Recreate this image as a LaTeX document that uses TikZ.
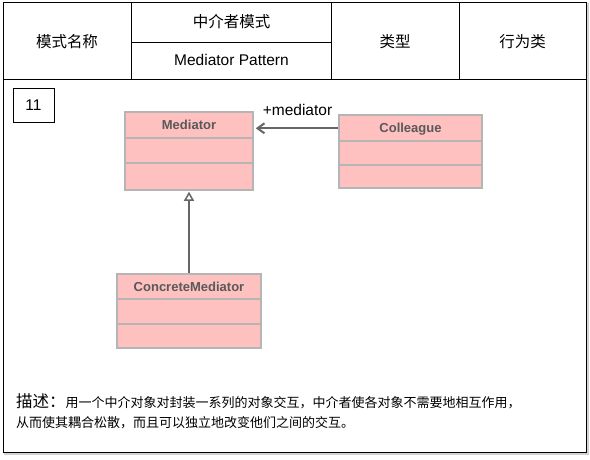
\documentclass[tikz,border=0pt]{standalone}
\usepackage{fontspec}
\setmainfont{Liberation Sans}
\newfontfamily\cjk{Noto Sans CJK SC}
\usetikzlibrary{arrows.meta}
\definecolor{umlfill}{HTML}{FFC0C0}
\definecolor{umlborder}{HTML}{B5B5B5}
\definecolor{umltext}{HTML}{595959}
\definecolor{conn}{HTML}{666666}
\begin{document}
\begin{tikzpicture}[x=1pt,y=-1pt,
  cell/.style={line width=1pt},
  cjkhead/.style={font=\cjk\fontsize{15.5}{18}\selectfont, inner sep=0pt, anchor=base},
  lathead/.style={font=\fontsize{15.5}{18}\selectfont, inner sep=0pt, anchor=base},
  numbox/.style={draw, line width=1pt, minimum width=41pt, minimum height=34pt, inner sep=0pt, font=\fontsize{15.5}{18}\selectfont},
  umlbox/.style={draw=umlborder, fill=umlfill, line width=1.5pt, inner sep=0pt},
  umlsep/.style={draw=umlborder, line width=1.5pt},
  clsname/.style={font=\bfseries\fontsize{13}{15}\selectfont, text=umltext, inner sep=0pt, anchor=base},
  assoc/.style={draw=conn, line width=2pt, -{Straight Barb[length=7pt,width=10pt]}, shorten >=2pt},
  inherit/.style={draw=conn, line width=2pt, -{Triangle[open,length=9pt,width=10pt,line width=1.5pt,fill=white]}, shorten >=1pt},
  desc/.style={font=\cjk\fontsize{13}{15}\selectfont, inner sep=0pt, anchor=base west}
]
\useasboundingbox (0,0) rectangle (590,459);
% frame with shadow
\draw[gray!35, line width=2pt] (4.5,4) rectangle (587.5,454);
\draw[cell, fill=white] (3,2.5) rectangle (586,452.5);
% header grid
\draw[cell] (3,79) -- (586,79);
\draw[cell] (131.5,2.5) -- (131.5,79);
\draw[cell] (331.5,2.5) -- (331.5,79);
\draw[cell] (459,2.5) -- (459,79);
\draw[cell] (131.5,42) -- (331.5,42);
% header texts
\node[cjkhead] (hname) at (67,47.6) {模式名称};
\node[cjkhead] (hcn) at (231.5,27.9) {中介者模式};
\node[lathead] (hen) at (231.5,65.6) {Mediator Pattern};
\node[cjkhead] (htype) at (395,47.4) {类型};
\node[cjkhead] (hval) at (522.5,47.4) {行为类};
% number box
\node[numbox] (num) at (33.5,105) {11};
% UML classes
\node[umlbox, minimum width=128pt, minimum height=78pt] (med) at (189,151) {};
\draw[umlsep] (125,138) -- (253,138);
\draw[umlsep] (125,163) -- (253,163);
\node[clsname] (medname) at (189,129.5) {Mediator};

\node[umlbox, minimum width=143pt, minimum height=73pt] (col) at (410.5,151.5) {};
\draw[umlsep] (339,141) -- (482,141);
\draw[umlsep] (339,165) -- (482,165);
\node[clsname] (colname) at (410.5,132.2) {Colleague};

\node[umlbox, minimum width=144pt, minimum height=74pt] (cm) at (189,311) {};
\draw[umlsep] (117,299) -- (261,299);
\draw[umlsep] (117,324) -- (261,324);
\node[clsname] (cmname) at (189,291.4) {ConcreteMediator};
% connectors
\draw[assoc] (col.west |- 0,128.3) -- (med.east |- 0,128.3);
\node[font=\fontsize{15.5}{18}\selectfont, inner sep=0pt] (lbl) at (297.5,110.3) {+mediator};
\draw[inherit] (cm.north) -- (med.south);
% description
\node[desc] (desc1) at (16,407.3) {{\fontsize{16.5}{18}\selectfont 描述：}用一个中介对象对封装一系列的对象交互，中介者使各对象不需要地相互作用，};
\node[desc] (desc2) at (16,427.5) {从而使其耦合松散，而且可以独立地改变他们之间的交互。};
\end{tikzpicture}
\end{document}
